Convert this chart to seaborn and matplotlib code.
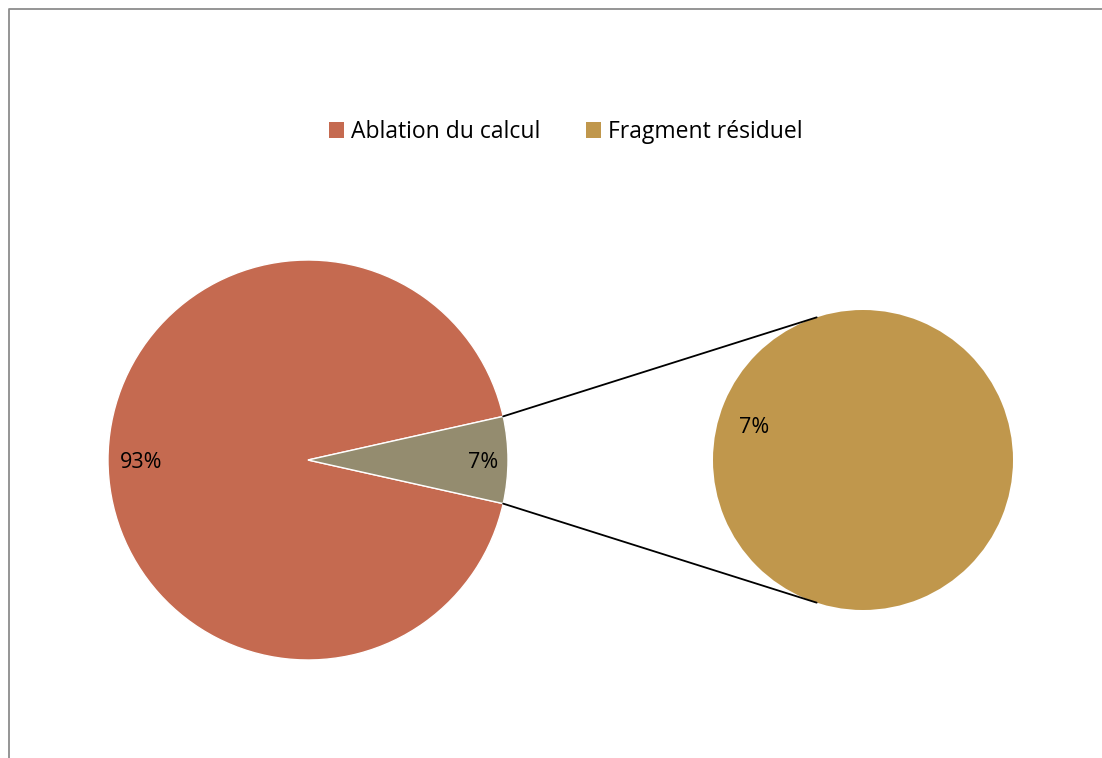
import numpy as np
import matplotlib
matplotlib.use("Agg")
import matplotlib.pyplot as plt
from matplotlib.patches import Patch
from matplotlib.lines import Line2D
import seaborn as sns

# Outcome shares (%)
categories = ["Ablation du calcul", "Fragment résiduel"]
values = [93, 7]
detail_values = [7]
pct_labels = ["93%", "7%"]
detail_labels = ["7%"]

main_colors = ["#C56A50", "#948C6F"]
detail_color = "#C0974C"

sns.set_theme(style="white")
plt.rcParams["font.family"] = ["Open Sans", "DejaVu Sans"]
plt.rcParams["text.color"] = "black"

W, H = 1102, 758
fig = plt.figure(figsize=(W / 100, H / 100), dpi=100)
ax = fig.add_axes([0, 0, 1, 1])

# main pie: small slice centred on the right
c1, r1 = (308, 298), 200
start = values[1] / sum(values) * 360 / 2
wedges, _ = ax.pie(values, colors=main_colors, startangle=start, center=c1,
                   radius=r1, frame=True,
                   wedgeprops=dict(edgecolor="white", linewidth=1))

label_dist = [0.835, 0.875]
for w, lab, d in zip(wedges, pct_labels, label_dist):
    mid = np.deg2rad((w.theta1 + w.theta2) / 2)
    ax.text(c1[0] + d * r1 * np.cos(mid), c1[1] + d * r1 * np.sin(mid), lab,
            ha="center", va="center_baseline", fontsize=15.5, color="black")

# secondary pie detailing the small slice
c2, r2 = (863, 298), 150
ax.pie(detail_values, colors=[detail_color], center=c2, radius=r2, frame=True,
       wedgeprops=dict(linewidth=0))
a = np.deg2rad(162)
ax.text(c2[0] + 0.76 * r2 * np.cos(a), c2[1] + 0.76 * r2 * np.sin(a),
        detail_labels[0], ha="center", va="center_baseline", fontsize=15.5,
        color="black")

# connector lines
for sgn in (1, -1):
    t1 = np.deg2rad(sgn * start)
    t2 = np.deg2rad(sgn * 108)
    ax.plot([c1[0] + r1 * np.cos(t1), c2[0] + r2 * np.cos(t2)],
            [c1[1] + r1 * np.sin(t1), c2[1] + r2 * np.sin(t2)],
            color="black", linewidth=1.3)

ax.set_xlim(0, W)
ax.set_ylim(0, H)
ax.set_aspect("equal")
ax.axis("off")

# legend
handles = [Patch(facecolor=main_colors[0], edgecolor="none"),
           Patch(facecolor=detail_color, edgecolor="none")]
fig.legend(handles, categories, loc="center", ncol=2, frameon=False,
           bbox_to_anchor=(566 / W, 1 - 132 / H), fontsize=16.5,
           labelcolor="black",
           handlelength=0.65, handleheight=0.65, handletextpad=0.3,
           columnspacing=2.0)

# chart area border
fig.add_artist(Line2D([9 / W, 9 / W, 1.01], [-0.01, 1 - 9 / H, 1 - 9 / H],
                      transform=fig.transFigure, color="#8C8C8C", linewidth=1.3))

fig.savefig("out.png", dpi=100)
